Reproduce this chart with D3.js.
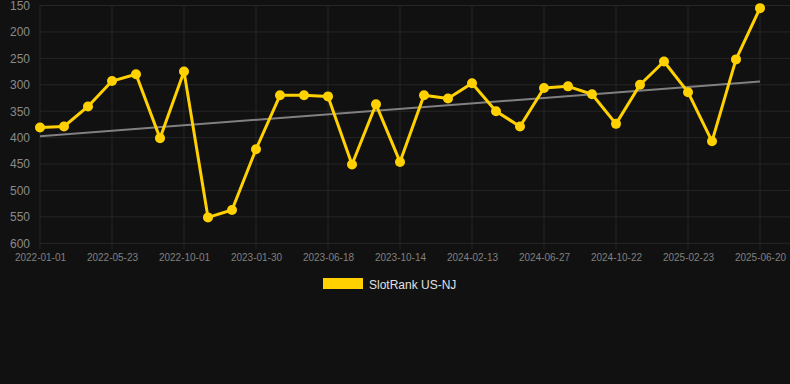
<!DOCTYPE html>
<html lang="en">
<head>
<meta charset="UTF-8">
<title>SlotRank US-NJ</title>
<script src="https://cdn.jsdelivr.net/npm/d3@7"></script>
<style>
  html, body { margin: 0; padding: 0; background: #111111; }
  svg { display: block; font-family: "Liberation Sans", Arial, sans-serif; }
</style>
</head>
<body>
<div id="chart"></div>
<script>
// categories (only every 3rd one is labelled on the axis)
var dates = ["2022-01-01", "2022-02-17", "2022-04-05", "2022-05-23", "2022-07-05", "2022-08-18",
             "2022-10-01", "2022-11-10", "2022-12-20", "2023-01-30", "2023-03-16", "2023-05-02",
             "2023-06-18", "2023-07-27", "2023-09-05", "2023-10-14", "2023-11-23", "2024-01-03",
             "2024-02-13", "2024-03-28", "2024-05-13", "2024-06-27", "2024-08-05", "2024-09-13",
             "2024-10-22", "2024-12-02", "2025-01-12", "2025-02-23", "2025-04-06", "2025-05-13",
             "2025-06-20"];
var ranks = [381, 379, 341, 293, 280, 401, 275, 551, 537, 422, 320, 320, 322, 451, 337, 446,
             320, 326, 297, 350, 379, 306, 303, 318, 374, 300, 256, 314, 407, 252, 155];
var yTicks = [150, 200, 250, 300, 350, 400, 450, 500, 550, 600];
var seriesName = "SlotRank US-NJ";

var W = 790, H = 384;
var plotLeft = 40, plotRight = 760, plotTop = 5.5, plotBottom = 243.3;

var svg = d3.select("#chart").append("svg")
    .attr("width", W)
    .attr("height", H);

svg.append("rect").attr("width", W).attr("height", H).attr("fill", "#111111");

var x = d3.scalePoint().domain(dates).range([plotLeft, plotRight]);
var y = d3.scaleLinear().domain([150, 600]).range([plotTop, plotBottom]);

// horizontal grid + y labels
var yAxis = svg.append("g")
    .attr("transform", "translate(" + plotLeft + ",0)")
    .call(d3.axisLeft(y).tickValues(yTicks).tickSize(0).tickPadding(10));
yAxis.select(".domain").remove();
yAxis.selectAll("text").attr("fill", "#8a8a8a").style("font-size", "12px");

svg.append("g").selectAll("line")
    .data(yTicks)
    .enter().append("line")
    .attr("x1", plotLeft).attr("x2", W)
    .attr("y1", function(d) { return y(d); })
    .attr("y2", function(d) { return y(d); })
    .attr("stroke", "#262626").attr("stroke-width", 1);

// vertical grid + x labels
var xTickVals = dates.filter(function(d, i) { return i % 3 === 0; });
svg.append("g").selectAll("line")
    .data(xTickVals)
    .enter().append("line")
    .attr("x1", function(d) { return x(d); })
    .attr("x2", function(d) { return x(d); })
    .attr("y1", plotTop).attr("y2", plotBottom + 6)
    .attr("stroke", "#262626").attr("stroke-width", 1);

var xAxis = svg.append("g")
    .attr("transform", "translate(0," + plotBottom + ")")
    .call(d3.axisBottom(x).tickValues(xTickVals).tickSize(0).tickPadding(11));
xAxis.select(".domain").remove();
xAxis.selectAll("text").attr("fill", "#808080").style("font-size", "10px");

// trend line (least squares over the series)
var n = ranks.length;
var mx = d3.mean(ranks, function(d, i) { return i; });
var my = d3.mean(ranks);
var sxy = d3.sum(ranks, function(d, i) { return (i - mx) * (d - my); });
var sxx = d3.sum(ranks, function(d, i) { return (i - mx) * (i - mx); });
var slope = sxy / sxx;
var icpt = my - slope * mx;
svg.append("line")
    .attr("x1", x(dates[0])).attr("y1", y(icpt))
    .attr("x2", x(dates[n - 1])).attr("y2", y(icpt + slope * (n - 1)))
    .attr("stroke", "#808080").attr("stroke-width", 2);

// series
var line = d3.line()
    .x(function(d, i) { return x(dates[i]); })
    .y(function(d) { return y(d); });
svg.append("path")
    .datum(ranks)
    .attr("d", line)
    .attr("fill", "none")
    .attr("stroke", "#FFD100")
    .attr("stroke-width", 3)
    .attr("stroke-linejoin", "round");

svg.append("g").selectAll("circle")
    .data(ranks)
    .enter().append("circle")
    .attr("cx", function(d, i) { return x(dates[i]); })
    .attr("cy", function(d) { return y(d); })
    .attr("r", 5)
    .attr("fill", "#FFD100");

// legend
svg.append("rect")
    .attr("x", 323).attr("y", 278)
    .attr("width", 40).attr("height", 11)
    .attr("fill", "#FFD100");
svg.append("text")
    .attr("x", 369).attr("y", 288.5)
    .attr("fill", "#e0e0e0")
    .style("font-size", "12px")
    .text(seriesName);
</script>
</body>
</html>
